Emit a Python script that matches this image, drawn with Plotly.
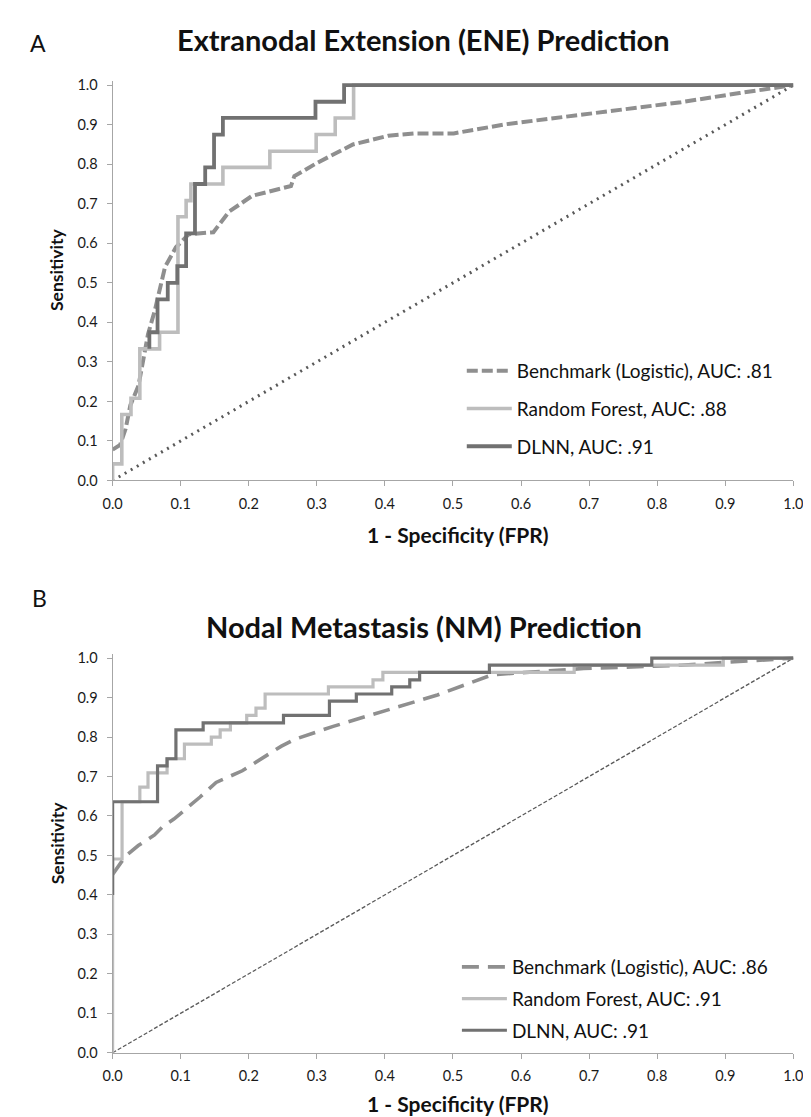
import plotly.graph_objects as go

# ---------------- Panel A: Extranodal Extension (ENE) ----------------
ene_bench_fpr = [0.0, 0.011, 0.019, 0.026, 0.038, 0.045, 0.052, 0.062, 0.069, 0.077, 0.093, 0.112,
                 0.148, 0.171, 0.205, 0.262, 0.267, 0.300, 0.353, 0.405, 0.444, 0.501, 0.577,
                 0.692, 0.835, 0.921, 1.0]
ene_bench_tpr = [0.078, 0.09, 0.13, 0.19, 0.24, 0.31, 0.37, 0.43, 0.48, 0.54, 0.59, 0.623,
                 0.628, 0.68, 0.72, 0.745, 0.77, 0.803, 0.85, 0.872, 0.878, 0.878, 0.901,
                 0.926, 0.957, 0.98, 1.0]

ene_rf_fpr = [0.0, 0.0, 0.0135, 0.0135, 0.027, 0.027, 0.040, 0.040, 0.069, 0.069, 0.096, 0.096,
              0.108, 0.108, 0.115, 0.115, 0.162, 0.162, 0.231, 0.231, 0.299, 0.299, 0.327, 0.327,
              0.354, 0.354, 1.0]
ene_rf_tpr = [0.0, 0.042, 0.042, 0.167, 0.167, 0.208, 0.208, 0.333, 0.333, 0.375, 0.375, 0.667,
              0.667, 0.708, 0.708, 0.75, 0.75, 0.792, 0.792, 0.833, 0.833, 0.875, 0.875, 0.917,
              0.917, 1.0, 1.0]

# visible part of the DLNN curve (its lower part is hidden in the reference)
ene_dlnn_fpr = [0.054, 0.054, 0.066, 0.066, 0.081, 0.081, 0.095, 0.095, 0.108, 0.108, 0.121, 0.121,
                0.136, 0.136, 0.149, 0.149, 0.162, 0.162, 0.298, 0.298, 0.340, 0.340, 1.0]
ene_dlnn_tpr = [0.333, 0.375, 0.375, 0.458, 0.458, 0.5, 0.5, 0.542, 0.542, 0.625, 0.625, 0.75,
                0.75, 0.792, 0.792, 0.875, 0.875, 0.917, 0.917, 0.958, 0.958, 1.0, 1.0]

# ---------------- Panel B: Nodal Metastasis (NM) ----------------
nm_bench_fpr = [0.0, 0.009, 0.0186, 0.0377, 0.0616, 0.0735, 0.09, 0.1285, 0.152, 0.1905, 0.248,
                0.267, 0.324, 0.372, 0.42, 0.477, 0.558, 0.692, 0.835, 0.931, 1.0]
nm_bench_tpr = [0.4515, 0.4725, 0.4975, 0.525, 0.552, 0.573, 0.592, 0.648, 0.685, 0.7145, 0.777,
                0.794, 0.827, 0.852, 0.878, 0.9065, 0.958, 0.9735, 0.982, 0.992, 1.0]

nm_rf_fpr = [0.0, 0.0, 0.0139, 0.0139, 0.040, 0.040, 0.052, 0.052, 0.080, 0.080, 0.1055, 0.1055,
             0.145, 0.145, 0.158, 0.158, 0.173, 0.173, 0.197, 0.197, 0.2106, 0.2106, 0.224, 0.224,
             0.317, 0.317, 0.3825, 0.3825, 0.397, 0.397, 0.678, 0.678, 0.897, 0.897, 1.0]
nm_rf_tpr = [0.0, 0.491, 0.491, 0.636, 0.636, 0.673, 0.673, 0.709, 0.709, 0.745, 0.745, 0.782,
             0.782, 0.800, 0.800, 0.818, 0.818, 0.836, 0.836, 0.855, 0.855, 0.873, 0.873, 0.909,
             0.909, 0.927, 0.927, 0.945, 0.945, 0.964, 0.964, 0.982, 0.982, 1.0, 1.0]

nm_dlnn_fpr = [0.0, 0.0, 0.066, 0.066, 0.080, 0.080, 0.093, 0.093, 0.133, 0.133, 0.251, 0.251,
               0.3185, 0.3185, 0.358, 0.358, 0.410, 0.410, 0.4365, 0.4365, 0.451, 0.451,
               0.5535, 0.5535, 0.792, 0.792, 1.0]
nm_dlnn_tpr = [0.4, 0.636, 0.636, 0.727, 0.727, 0.745, 0.745, 0.818, 0.818, 0.836, 0.836, 0.855,
               0.855, 0.891, 0.891, 0.909, 0.909, 0.927, 0.927, 0.945, 0.945, 0.964,
               0.964, 0.982, 0.982, 1.0, 1.0]

chance = [0.0, 1.0]

ene_names = ["Benchmark (Logistic), AUC: .81", "Random Forest, AUC: .88", "DLNN, AUC: .91"]
nm_names = ["Benchmark (Logistic), AUC: .86", "Random Forest, AUC: .91", "DLNN, AUC: .91"]
ticks = [round(i * 0.1, 1) for i in range(11)]

# ---------------- styling ----------------
W, H = 811, 1117
FONT = "Lato"
C_BENCH = "#8F8F8F"
C_RF = "#BDBDBD"
C_DLNN = "#717171"
C_DIAG = "#595959"
AX = "#A6A6A6"

def px_y(p):
    return 1 - p / H

fig = go.Figure()

# Panel A traces
fig.add_trace(go.Scatter(x=chance, y=chance, mode="lines", showlegend=False,
                         line=dict(color=C_DIAG, width=3, dash="2px,5px"),
                         xaxis="x", yaxis="y"))
fig.add_trace(go.Scatter(x=ene_bench_fpr, y=ene_bench_tpr, mode="lines", name=ene_names[0],
                         line=dict(color=C_BENCH, width=4, dash="11px,4px"),
                         legend="legend", legendgroup="a1", xaxis="x", yaxis="y"))
fig.add_trace(go.Scatter(x=ene_rf_fpr, y=ene_rf_tpr, mode="lines", name=ene_names[1],
                         line=dict(color=C_RF, width=3.6),
                         legend="legend", legendgroup="a2", xaxis="x", yaxis="y"))
fig.add_trace(go.Scatter(x=ene_dlnn_fpr, y=ene_dlnn_tpr, mode="lines", name=ene_names[2],
                         line=dict(color=C_DLNN, width=3.8),
                         legend="legend", legendgroup="a3", xaxis="x", yaxis="y"))

# Panel B traces
fig.add_trace(go.Scatter(x=chance, y=chance, mode="lines", showlegend=False,
                         line=dict(color=C_DIAG, width=1.3, dash="4px,2px"),
                         xaxis="x2", yaxis="y2"))
fig.add_trace(go.Scatter(x=nm_bench_fpr, y=nm_bench_tpr, mode="lines", name=nm_names[0],
                         line=dict(color=C_BENCH, width=3.6, dash="17px,9px"),
                         legend="legend2", legendgroup="b1", xaxis="x2", yaxis="y2"))
fig.add_trace(go.Scatter(x=nm_rf_fpr, y=nm_rf_tpr, mode="lines", name=nm_names[1],
                         line=dict(color=C_RF, width=3.2),
                         legend="legend2", legendgroup="b2", xaxis="x2", yaxis="y2"))
fig.add_trace(go.Scatter(x=nm_dlnn_fpr, y=nm_dlnn_tpr, mode="lines", name=nm_names[2],
                         line=dict(color=C_DLNN, width=3.2),
                         legend="legend2", legendgroup="b3", xaxis="x2", yaxis="y2"))

x_dom = [97 / W, 795 / W]
axis_common = dict(showline=True, linecolor=AX, linewidth=1, ticks="outside", ticklen=5,
                   tickcolor=AX, tickwidth=1, showgrid=False, zeroline=False,
                   tickvals=ticks, tickformat=".1f",
                   tickfont=dict(family=FONT, size=14.5, color="#1a1a1a"))

fig.update_layout(
    width=W, height=H, autosize=False,
    margin=dict(l=0, r=0, t=0, b=0),
    paper_bgcolor="white", plot_bgcolor="white",
    xaxis=dict(domain=x_dom, range=[0, 1.0], anchor="y", ticklabelstandoff=5, **axis_common),
    yaxis=dict(domain=[px_y(473), px_y(69)], range=[0, 1.01], anchor="x",
               ticklabelstandoff=6, **axis_common),
    xaxis2=dict(domain=x_dom, range=[0, 1.0], anchor="y2", ticklabelstandoff=5, **axis_common),
    yaxis2=dict(domain=[px_y(1052), px_y(648.7)], range=[0, 1.01], anchor="x2",
                ticklabelstandoff=6, **axis_common),
    legend=dict(x=455 / W, y=px_y(343), xanchor="left", yanchor="top",
                font=dict(family=FONT, size=19, color="#111"),
                bgcolor="rgba(0,0,0,0)", itemwidth=45, traceorder="grouped",
                tracegroupgap=10),
    legend2=dict(x=450 / W, y=px_y(946), xanchor="left", yanchor="top",
                 font=dict(family=FONT, size=19, color="#111"),
                 bgcolor="rgba(0,0,0,0)", itemwidth=45, traceorder="grouped",
                 tracegroupgap=4),
)

ann = []
def text(t, x, y, size, bold=False, angle=0):
    ann.append(dict(text=("<b>%s</b>" % t) if bold else t, x=x / W, y=px_y(y),
                    xref="paper", yref="paper", showarrow=False, textangle=angle,
                    xanchor="center", yanchor="middle",
                    font=dict(family=FONT, size=size, color="#111")))

text("A", 21, 30, 23)
text("B", 22, 592, 23)
text("Extranodal Extension (ENE) Prediction", 416, 27, 29, bold=True)
text("Nodal Metastasis (NM) Prediction", 416, 621, 29, bold=True)
text("1 - Specificity (FPR)", 451, 528, 21, bold=True)
text("1 - Specificity (FPR)", 451, 1103, 21, bold=True)
text("Sensitivity", 40, 260, 17.5, bold=True, angle=-90)
text("Sensitivity", 40, 840, 17.5, bold=True, angle=-90)
fig.update_layout(annotations=ann)

fig.write_html("out.html")
